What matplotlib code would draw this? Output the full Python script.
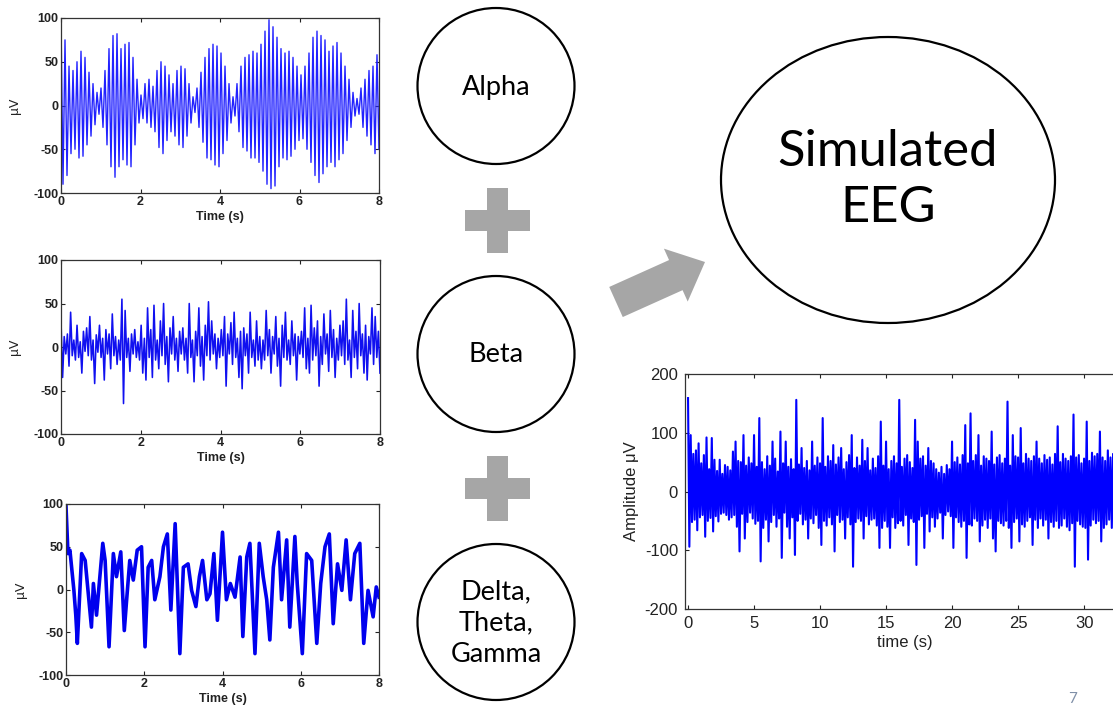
import numpy as np
import matplotlib
matplotlib.use("Agg")
import matplotlib.pyplot as plt
from matplotlib.patches import Ellipse, Rectangle, FancyArrow

plt.rcParams["axes.unicode_minus"] = False

# ---------------- data ----------------
# Alpha rhythm: successive half-cycle extremes (uV), 0-8 s
alpha_uv = [
    98, -90, 75, -80, 45, -55, 40, -50, 50, -60,
    62, -58, 55, -45, 38, -35, 25, -22, 15, -10,
    20, -25, 40, -45, 65, -70, 80, -82, 82, -70,
    65, -62, 70, -68, 72, -70, 55, -45, 30, -20,
    12, -15, 25, -20, 30, -25, 22, -30, 40, -48,
    50, -55, 45, -40, 35, -30, 25, -35, 40, -45,
    45, -48, 42, -35, 25, -20, 10, -8, 20, -25,
    38, -42, 55, -60, 65, -62, 70, -68, 68, -70,
    60, -55, 45, -40, 25, -20, 10, -12, 25, -30,
    45, -48, 55, -52, 58, -60, 62, -60, 60, -65,
    70, -75, 85, -90, 98, -95, 90, -92, 78, -70,
    65, -60, 60, -62, 62, -58, 55, -50, 45, -40,
    35, -38, 45, -50, 60, -65, 78, -80, 85, -88,
    80, -78, 75, -70, 62, -65, 68, -70, 72, -62,
    60, -55, 45, -40, 30, -25, 15, -12, 8, -10,
    20, -25, 30, -35, 40, -45, 45, -55, 58, -50,
]

# Beta rhythm samples (uV), 0-8 s
beta_uv = [
    30, -35, 12, -8, 15, -22, 40, -10, 8, -15, 25, -12, 6, -30, 18, -5, 22, -10, 35, -15, 8, -42, 14, -6, 25,
    -12, 10, -38, 20, -8, 15, -25, 38, -10, 12, -20, 8, -15, 55, -65, 42, -12, 10, -28, 15, -8, 20, -12, 6, -15,
    25, -30, 10, -38, 45, -12, 20, -35, 48, -15, 8, -25, 30, -10, 50, -20, 12, -40, 22, -8, 35, -15, 10, -28, 18,
    -8, 22, -15, 10, -30, 50, -12, 8, -40, 18, -10, 45, -22, 12, -38, 25, -10, 52, -15, 30, -8, 15, -25, 10, -12,
    20, -10, 35, -45, 15, -8, 28, -20, 40, -12, 10, -35, 18, -48, 22, -10, 15, -30, 40, -12, 8, -22, 30, -15, 12,
    -25, 8, -15, 42, -10, 20, -30, 12, -8, 35, -22, 10, -45, 25, -12, 40, -15, 8, -20, 30, -10, 15, -38, 12, -8,
    18, -12, 45, -25, 10, -30, 48, -15, 22, -10, 30, -45, 12, -20, 38, -8, 15, -28, 42, -12, 20, -35, 10, -15, 25,
    -10, 30, -20, 55, -15, 8, -35, 42, -12, 18, -25, 50, -10, 15, -30, 25, -38, 12, -8, 45, -20, 35, -12, 18, -30,
]

# Delta + Theta + Gamma: turning points (time s, uV)
slow_t = [0.0, 0.05, 0.1, 0.2, 0.25, 0.29, 0.4, 0.49, 0.57, 0.65, 0.7, 0.78, 0.94, 1.0, 1.1,
          1.21, 1.29, 1.4, 1.49, 1.55, 1.63, 1.72, 1.82, 1.93, 2.02, 2.1, 2.19, 2.27, 2.4,
          2.49, 2.59, 2.68, 2.79, 2.91, 3.0, 3.12, 3.21, 3.32, 3.41, 3.49, 3.6, 3.68, 3.78,
          3.87, 4.0, 4.1, 4.2, 4.32, 4.45, 4.52, 4.62, 4.7, 4.83, 4.94, 5.04, 5.13, 5.21,
          5.3, 5.43, 5.51, 5.64, 5.72, 5.85, 5.91, 6.04, 6.15, 6.28, 6.41, 6.51, 6.62, 6.73,
          6.83, 6.94, 7.05, 7.16, 7.27, 7.38, 7.51, 7.61, 7.72, 7.85, 7.93, 8.0]
slow_uv = [97, 42, 46, 0, -30, -63, 42, 34, -5, -44, 7, -30, 54, 34, -67,
           42, 15, 44, -48, -12, 34, 11, 46, 50, -67, 26, 34, -12, 15,
           50, 65, -24, 77, -75, 26, 30, -1, -20, 15, 34, -12, -5, 42,
           -36, 67, -12, 7, -9, 38, -55, 38, 54, -75, 54, 15, -12, -59,
           26, 67, -12, 58, -44, 62, 7, -75, 42, 34, -63, 7, 50, 65,
           -40, 30, -1, 58, -12, 42, 54, -63, -1, -32, 3, -9]

# Simulated EEG samples (uV), 0-32.5 s
eeg_uv = [
    159, -94, 96, -52, 64, -48, 70, -66, 82, -44,
    48, -40, 62, -77, 92, -50, 38, -45, 91, -68,
    54, -42, 35, -51, 54, -38, 30, -36, 45, -40,
    42, -48, 36, -44, 68, -40, 85, -60, 52, -102,
    50, -38, 96, -80, 44, -52, 58, -36, 48, -46,
    96, -55, 42, -50, 125, -119, 50, -62, 38, -48,
    60, -85, 44, -52, 85, -40, 56, -60, 34, -46,
    102, -113, 48, -36, 85, -60, 42, -80, 55, -44,
    38, -108, 156, -50, 46, -38, 74, -56, 40, -48,
    52, -80, 36, -46, 85, -54, 44, -40, 58, -62,
    48, -91, 125, -50, 42, -58, 60, -44, 52, -56,
    79, -102, 46, -40, 58, -52, 74, -48, 38, -80,
    50, -44, 62, -56, 96, -128, 40, -52, 58, -46,
    44, -50, 88, -80, 52, -42, 74, -56, 36, -48,
    56, -46, 40, -58, 60, -96, 119, -62, 44, -50,
    85, -60, 38, -96, 52, -44, 60, -62, 48, -54,
    156, -50, 42, -58, 56, -40, 62, -91, 50, -46,
    40, -52, 122, -125, 85, -48, 56, -42, 60, -96,
    44, -38, 74, -68, 52, -44, 48, -60, 38, -46,
    32, -36, 42, -80, 30, -40, 45, -34, 38, -42,
    85, -96, 50, -44, 58, -52, 46, -60, 62, -50,
    113, -113, 48, -56, 133, -58, 52, -46, 62, -50,
    96, -85, 44, -58, 60, -48, 56, -62, 52, -46,
    102, -80, 46, -102, 58, -50, 62, -54, 48, -58,
    56, -50, 153, -62, 44, -96, 96, -52, 60, -46,
    58, -85, 108, -56, 48, -60, 64, -50, 56, -44,
    52, -91, 60, -48, 85, -62, 56, -46, 48, -58,
    62, -48, 54, -80, 58, -52, 46, -60, 64, -50,
    111, -62, 50, -58, 64, -46, 56, -60, 52, -66,
    60, -54, 131, -128, 58, -50, 62, -56, 48, -60,
    56, -62, 119, -116, 52, -58, 66, -48, 60, -54,
    64, -50, 102, -85, 58, -62, 52, -56, 70, -48,
    58, -62, 64, -50, 60, -52,
]

band_labels = ["Alpha", "Beta", "Delta,\nTheta,\nGamma"]
small_xticks = [0, 2, 4, 6, 8]
small_yticks = [-100, -50, 0, 50, 100]
eeg_xticks = [0, 5, 10, 15, 20, 25, 30]
eeg_yticks = [-200, -100, 0, 100, 200]

# ---------------- figure ----------------
W, H = 1113, 710
fig = plt.figure(figsize=(W / 100, H / 100), dpi=100)
fig.patch.set_facecolor("white")
TFONT = "Liberation Sans"


def px_rect(left, top, right, bottom):
    return [left / W, (H - bottom) / H, (right - left) / W, (bottom - top) / H]


def matlab_style(ax, fs, bold=True, pad=2):
    ax.tick_params(direction="in", top=True, right=True, length=3, width=0.8,
                   labelsize=fs, pad=pad, colors="#222222")
    for s in ax.spines.values():
        s.set_color("#333333")
        s.set_linewidth(0.9)
    for lab in ax.get_xticklabels() + ax.get_yticklabels():
        lab.set_fontfamily(TFONT)
        if bold:
            lab.set_fontweight("bold")


small_axes = [
    (px_rect(61, 18, 379, 193), alpha_uv, 1.0, "#2222ff"),
    (px_rect(61, 260, 380, 434), beta_uv, 1.15, "#1010f0"),
]
for rect, data, lw, col in small_axes:
    ax = fig.add_axes(rect)
    t = np.linspace(0, 8, len(data))
    ax.plot(t, data, color=col, lw=lw)
    ax.set_xlim(0, 8)
    ax.set_ylim(-100, 100)
    ax.set_xticks(small_xticks)
    ax.set_yticks(small_yticks)
    matlab_style(ax, 9)
    ax.set_xlabel("Time (s)", fontsize=9, family=TFONT, weight="bold", labelpad=2, color="#222222")
    ax.set_ylabel("μV", fontsize=9, family="DejaVu Sans", labelpad=9, color="#222222")

ax3 = fig.add_axes(px_rect(66, 504, 379, 675))
ax3.plot(slow_t, slow_uv, color="#0000ee", lw=2.6)
ax3.set_xlim(0, 8)
ax3.set_ylim(-100, 100)
ax3.set_xticks(small_xticks)
ax3.set_yticks(small_yticks)
matlab_style(ax3, 9)
ax3.set_xlabel("Time (s)", fontsize=9, family=TFONT, weight="bold", labelpad=2, color="#222222")
ax3.set_ylabel("μV", fontsize=9, family="DejaVu Sans", labelpad=8, color="#222222")

ax4 = fig.add_axes(px_rect(685, 374, 1125, 609))
te = np.linspace(0, 32.5, len(eeg_uv))
ax4.plot(te, eeg_uv, color="#0000ff", lw=1.5)
ax4.set_xlim(-0.23, 33.1)
ax4.set_ylim(-200, 200)
ax4.set_xticks(eeg_xticks)
ax4.set_yticks(eeg_yticks)
matlab_style(ax4, 12, bold=False, pad=5)
ax4.set_xlabel("time (s)", fontsize=12, family=TFONT, labelpad=3, color="#222222")
ax4.set_ylabel("Amplitude μV", fontsize=12, family=TFONT, labelpad=4, color="#222222")

# ---------------- diagram overlay (pixel coordinates) ----------------
ov = fig.add_axes([0, 0, 1, 1])
ov.set_xlim(0, W)
ov.set_ylim(H, 0)
ov.axis("off")
ov.patch.set_alpha(0)

circle_centers = [(496, 86), (496, 354), (496, 622)]
for (cx, cy), lab in zip(circle_centers, band_labels):
    ov.add_patch(Ellipse((cx, cy), 157, 156, fill=False, ec="black", lw=1.6))
    ov.text(cx, cy + 1, lab, ha="center", va="center", fontsize=19.5, family="Lato",
            linespacing=1.3, color="black")

gray = "#a6a6a6"
for top in (188, 456):
    ov.add_patch(Rectangle((487, top), 21, 65, color=gray, lw=0))
    ov.add_patch(Rectangle((465, top + 22), 65, 21, color=gray, lw=0))

ov.add_patch(FancyArrow(616, 302, 89, -40, width=33, head_width=58, head_length=32,
                        length_includes_head=True, color=gray, lw=0))

ov.add_patch(Ellipse((888, 180), 334, 286, fill=False, ec="black", lw=1.6))
ov.text(888, 180, "Simulated\nEEG", ha="center", va="center", fontsize=36.5,
        family="Lato", linespacing=1.25, color="black")

ov.text(1073, 699, "7", ha="center", va="center", fontsize=11, family="Lato", color="#8090a8")

fig.savefig("out.png", dpi=100, facecolor="white")
